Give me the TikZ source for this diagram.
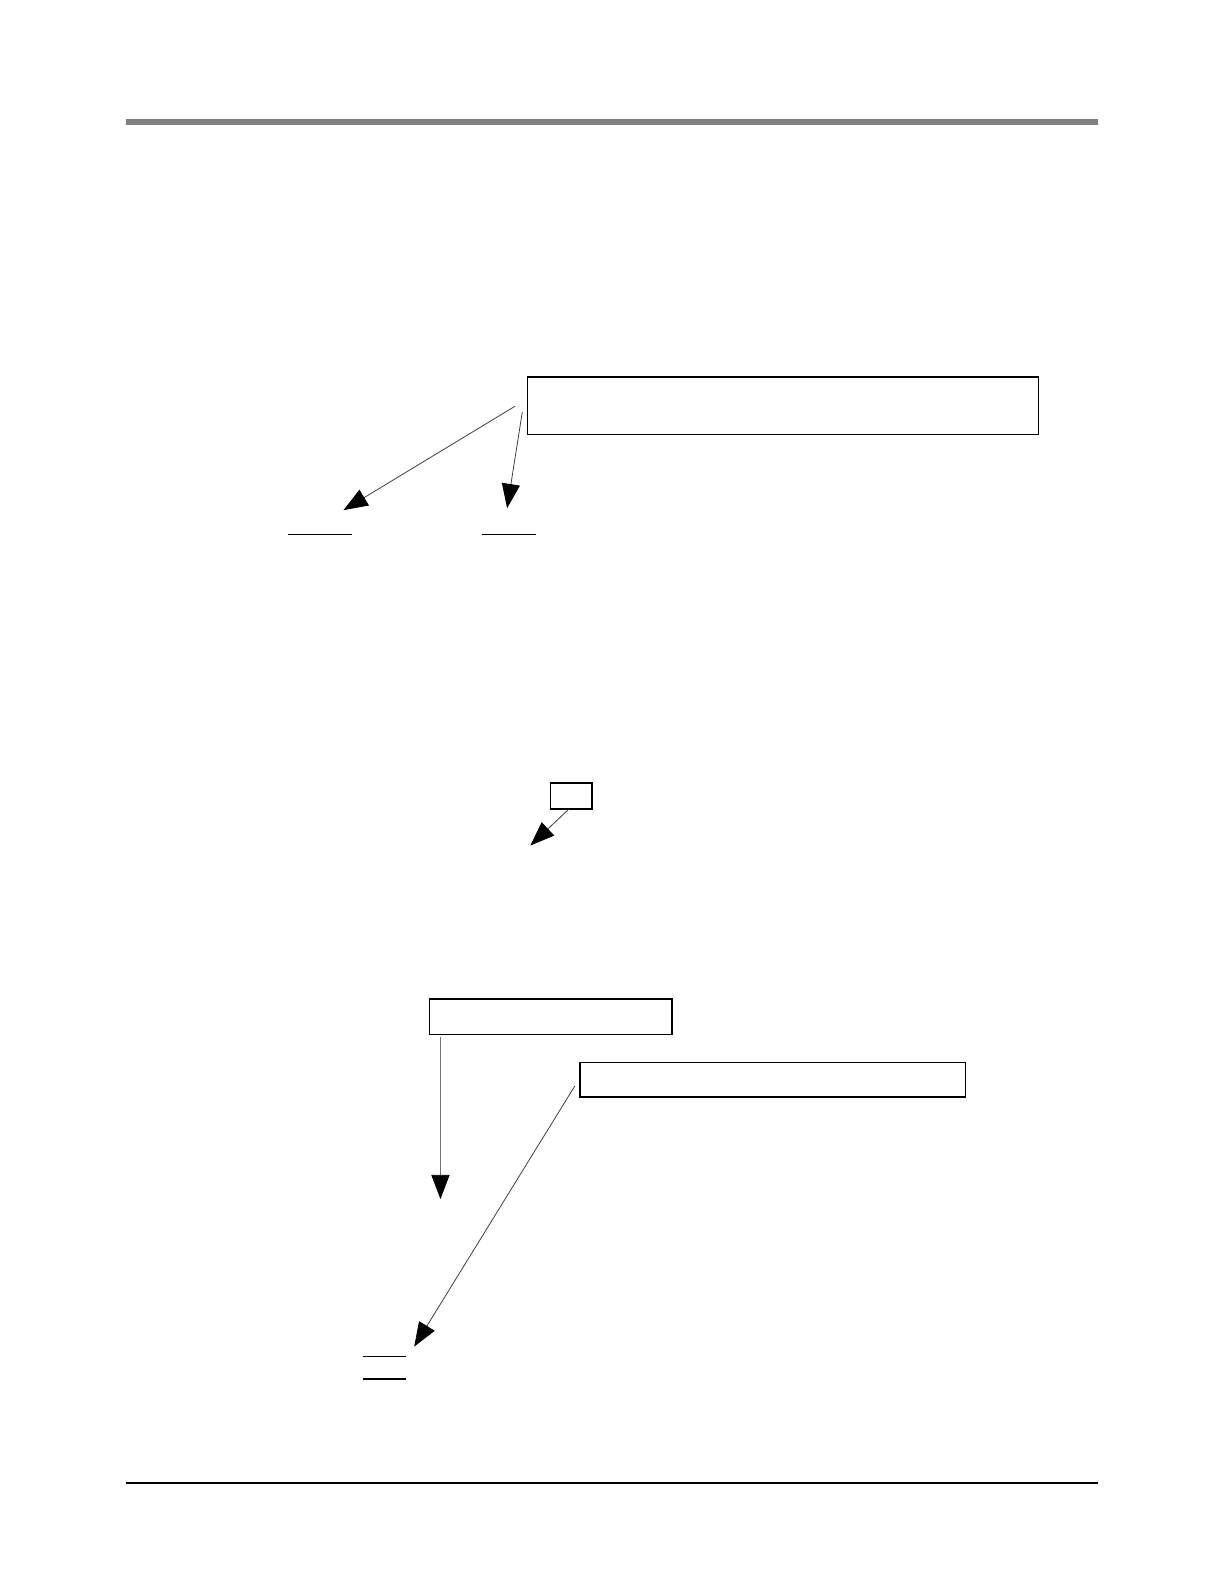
\documentclass[tikz,border=0pt]{standalone}
\usetikzlibrary{arrows.meta}
\begin{document}
\begin{tikzpicture}[x=0.5pt,y=-0.5pt,
  box/.style={draw=black,line width=0.7pt,inner sep=0pt},
  conn/.style={draw=black!75,line width=0.4pt,-{Triangle[length=12pt,width=9pt,color=black]}},
  uline/.style={line width=0.7pt},
]
\useasboundingbox (0,0) rectangle (1211.6,1568);
% header and footer rules
\draw[line width=3pt,black!50] (125,121) -- (1087,121);
\draw[line width=0.7pt] (125,1468) -- (1087,1468);
% boxes
\node[box,minimum width=253pt,minimum height=28.5pt] (A) at (775,401.5) {};
\node[box,minimum width=20.5pt,minimum height=13pt] (B) at (565.5,788) {};
\node[box,minimum width=120pt,minimum height=17.5pt] (C) at (545,1006.5) {};
\node[box,minimum width=191pt,minimum height=17pt] (D) at (765,1069) {};
% free ends
\coordinate (a1) at (510,402);
\coordinate (a2) at (517,408);
\coordinate (t1) at (340,505);
\coordinate (t2) at (502,503);
\coordinate (b1) at (563,801);
\coordinate (t3) at (525,837);
\coordinate (c1) at (436,1027);
\coordinate (t4) at (436,1187);
\coordinate (d1) at (569,1075);
\coordinate (t5) at (410,1333);
% underlines
\coordinate (u1l) at (285,529); \coordinate (u1r) at (348,529);
\coordinate (u2l) at (477,529); \coordinate (u2r) at (531,529);
\coordinate (u3l) at (359,1343); \coordinate (u3r) at (402,1343);
\coordinate (u4l) at (359,1365); \coordinate (u4r) at (402,1365);
\draw[uline] (u1l) -- (u1r);
\draw[uline] (u2l) -- (u2r);
\draw[uline] (u3l) -- (u3r);
\draw[uline] (u4l) -- (u4r);
% connectors
\draw[conn] (a1) -- (t1);
\draw[conn] (a2) -- (t2);
\draw[conn] (b1) -- (t3);
\draw[conn,draw=black!55] (c1) -- (t4);
\draw[conn] (d1) -- (t5);
\end{tikzpicture}
\end{document}
